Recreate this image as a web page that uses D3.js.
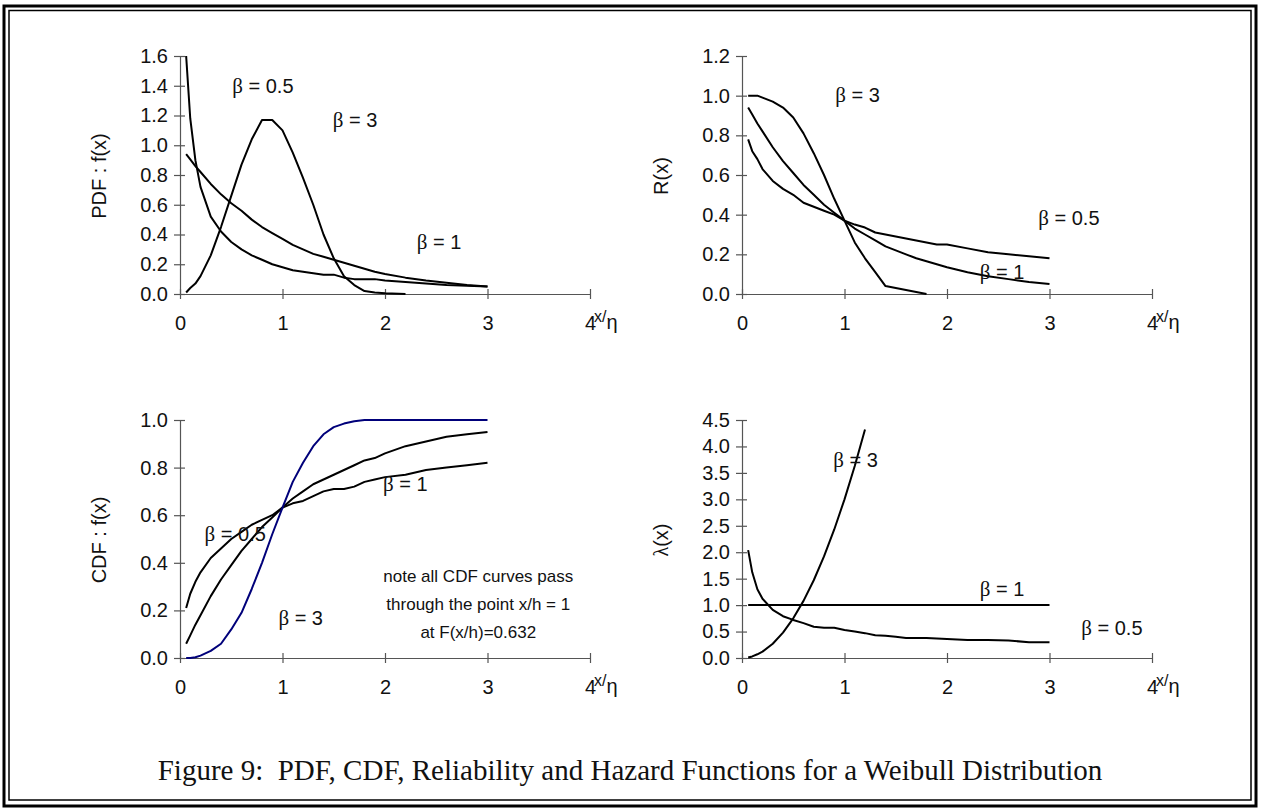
<!DOCTYPE html>
<html>
<head>
<meta charset="utf-8">
<script src="https://cdn.jsdelivr.net/npm/d3@7"></script>
<style>
  body { margin: 0; background: #fff; }
  svg text { font-family: "Liberation Sans", Arial, sans-serif; fill: #111; }
</style>
</head>
<body>
<svg id="fig" width="1261" height="809"></svg>
<script>
// Weibull figure: PDF, R(x), CDF and hazard for beta = 0.5, 1, 3 (eta = 1)

const xGrid = [0.06, 0.1, 0.15, 0.2, 0.3, 0.4, 0.5, 0.6, 0.7, 0.8, 0.9, 1.0,
  1.1, 1.2, 1.3, 1.4, 1.5, 1.6, 1.7, 1.8, 1.9, 2.0, 2.2, 2.4, 2.6, 2.8, 3.0]

// PDF f(x)
const pdfB05 = [1.6, 1.18, 0.90, 0.72, 0.52, 0.42, 0.35, 0.30, 0.26, 0.23, 0.20, 0.18,
  0.16, 0.15, 0.14, 0.13, 0.13, 0.11, 0.10, 0.10, 0.10, 0.09, 0.08, 0.07, 0.06, 0.055, 0.05]
const pdfB1 = [0.94, 0.905, 0.86, 0.82, 0.74, 0.67, 0.61, 0.56, 0.50, 0.45, 0.41, 0.37,
  0.33, 0.30, 0.27, 0.25, 0.23, 0.21, 0.19, 0.17, 0.15, 0.135, 0.11, 0.09, 0.075, 0.06, 0.05]
const pdfB3 = [0.01, 0.04, 0.07, 0.12, 0.26, 0.45, 0.66, 0.87, 1.04, 1.17, 1.17, 1.10,
  0.95, 0.78, 0.60, 0.40, 0.24, 0.12, 0.06, 0.02, 0.01, 0.005, 0.0]

// reliability R(x)
const relB05 = [0.78, 0.72, 0.68, 0.63, 0.57, 0.53, 0.50, 0.46, 0.44, 0.42, 0.40, 0.37,
  0.35, 0.335, 0.31, 0.30, 0.29, 0.28, 0.27, 0.26, 0.25, 0.25, 0.23, 0.21, 0.20, 0.19, 0.18]
const relB1 = [0.94, 0.905, 0.86, 0.82, 0.74, 0.67, 0.61, 0.55, 0.50, 0.45, 0.41, 0.37,
  0.33, 0.30, 0.27, 0.24, 0.22, 0.20, 0.18, 0.165, 0.15, 0.135, 0.11, 0.09, 0.075, 0.06, 0.05]
const relB3 = [1.0, 1.0, 1.0, 0.99, 0.97, 0.94, 0.89, 0.81, 0.71, 0.60, 0.48, 0.37,
  0.26, 0.18, 0.11, 0.04, 0.03, 0.02, 0.01, 0.0]

// CDF F(x)
const cdfB05 = [0.21, 0.27, 0.32, 0.36, 0.42, 0.46, 0.50, 0.53, 0.56, 0.58, 0.60, 0.632,
  0.65, 0.66, 0.68, 0.70, 0.71, 0.71, 0.72, 0.74, 0.75, 0.76, 0.77, 0.79, 0.80, 0.81, 0.82]
const cdfB1 = [0.06, 0.095, 0.14, 0.18, 0.26, 0.33, 0.39, 0.45, 0.50, 0.55, 0.59, 0.632,
  0.67, 0.70, 0.73, 0.75, 0.77, 0.79, 0.81, 0.83, 0.84, 0.86, 0.89, 0.91, 0.93, 0.94, 0.95]
const cdfB3 = [0.0, 0.0, 0.003, 0.01, 0.03, 0.06, 0.12, 0.19, 0.29, 0.40, 0.52, 0.632,
  0.74, 0.82, 0.89, 0.94, 0.97, 0.985, 0.995, 1.0, 1.0, 1.0, 1.0, 1.0, 1.0, 1.0, 1.0]

// hazard lambda(x)
const hazB05 = [2.04, 1.62, 1.30, 1.12, 0.91, 0.79, 0.72, 0.66, 0.59, 0.57, 0.57, 0.53,
  0.50, 0.47, 0.43, 0.42, 0.40, 0.38, 0.38, 0.38, 0.37, 0.36, 0.34, 0.34, 0.33, 0.30, 0.30]
const hazB1 = [1, 1, 1, 1, 1, 1, 1, 1, 1, 1, 1, 1, 1, 1, 1, 1, 1, 1, 1, 1, 1, 1, 1, 1, 1, 1, 1]
const hazB3 = [0.01, 0.03, 0.07, 0.12, 0.27, 0.48, 0.75, 1.08, 1.47, 1.92, 2.43, 3.0,
  3.63, 4.32]

const xTicks = [0, 1, 2, 3, 4]

const svg = d3.select("#fig")
const FS = 20   // tick / label font size (chart text)
const NOTE_FS = 17

// double frame around the whole figure
svg.append("rect").attr("x", 4).attr("y", 6).attr("width", 1252).attr("height", 800)
  .attr("fill", "none").attr("stroke", "#000").attr("stroke-width", 3)
svg.append("rect").attr("x", 9).attr("y", 10.5).attr("width", 1242).attr("height", 789.5)
  .attr("fill", "none").attr("stroke", "#000").attr("stroke-width", 1.5)

// one panel = axes + curves + annotations
function drawPanel(p) {
  const x = d3.scaleLinear().domain([0, 4]).range([p.left, p.left + 410])
  const y = d3.scaleLinear().domain([0, p.yMax]).range([p.bottom, p.top])
  const g = svg.append("g")

  // x axis with crossing ticks
  const xa = g.append("g").attr("transform", `translate(0,${p.bottom})`)
    .call(d3.axisBottom(x).tickValues(xTicks).tickSizeInner(5).tickSizeOuter(0).tickPadding(17).tickFormat(d3.format("d")))
  xa.selectAll(".tick line").attr("y1", -5)
  xa.selectAll("text").style("font-size", FS + "px").attr("fill", "#111")

  // y axis
  const yTicks = d3.range(0, p.yMax + 1e-9, p.yStep)
  const ya = g.append("g").attr("transform", `translate(${p.left},0)`)
    .call(d3.axisLeft(y).tickValues(yTicks).tickSizeInner(6).tickSizeOuter(0).tickPadding(6).tickFormat(d3.format(".1f")))
  ya.selectAll(".tick line").attr("x1", 5)
  ya.selectAll("text").style("font-size", FS + "px").attr("fill", "#111")

  g.selectAll(".domain, .tick line").attr("stroke", "#555").attr("stroke-width", 1.2)

  // x/eta label next to the 4
  const xl = g.append("text").attr("x", x(4) + 4).attr("y", p.bottom + 35)
  xl.append("tspan").text("x/").style("font-size", "16px").attr("dy", -7)
  xl.append("tspan").text("η").style("font-size", FS + "px").attr("dy", 7)

  // rotated y label
  const yl = g.append("text")
    .attr("transform", `translate(${p.left - 74},${(p.top + p.bottom) / 2 + 1}) rotate(-90)`)
    .attr("text-anchor", "middle").style("font-size", FS + "px")
  p.yLabel.forEach(s => {
    yl.append("tspan").text(s.t).style("font-family", s.serif ? "'Liberation Serif', serif" : null)
  })

  // curves
  const line = d3.line().x(d => x(d[0])).y(d => y(d[1]))
  p.series.forEach(s => {
    const pts = s.values.map((v, i) => [xGrid[i], v])
    g.append("path").attr("d", line(pts))
      .attr("fill", "none").attr("stroke", s.color || "#000")
      .attr("stroke-width", 2).attr("stroke-linejoin", "round")
  })

  // beta labels
  p.labels.forEach(l => {
    const t = g.append("text").attr("x", x(l.x)).attr("y", y(l.y)).style("font-size", FS + "px")
    t.append("tspan").text("β").style("font-family", "'Liberation Serif', serif").style("font-size", (FS + 1) + "px")
    t.append("tspan").text(" = " + l.b)
  })

  if (p.note) {
    p.note.forEach((line, i) => {
      g.append("text").attr("x", x(2.91)).attr("y", y(0.32) + i * 28)
        .attr("text-anchor", "middle").style("font-size", NOTE_FS + "px").text(line)
    })
  }
}

drawPanel({
  left: 180, bottom: 294, top: 56, yMax: 1.6, yStep: 0.2,
  yLabel: [{ t: "PDF : f(x)" }],
  series: [{ values: pdfB05 }, { values: pdfB1 }, { values: pdfB3 }],
  labels: [{ b: "0.5", x: 0.51, y: 1.35 }, { b: "3", x: 1.49, y: 1.12 }, { b: "1", x: 2.31, y: 0.30 }]
})

drawPanel({
  left: 742, bottom: 294, top: 56, yMax: 1.2, yStep: 0.2,
  yLabel: [{ t: "R(x)" }],
  series: [{ values: relB05 }, { values: relB1 }, { values: relB3 }],
  labels: [{ b: "3", x: 0.91, y: 0.97 }, { b: "0.5", x: 2.89, y: 0.35 }, { b: "1", x: 2.32, y: 0.076 }]
})

drawPanel({
  left: 180, bottom: 658, top: 420, yMax: 1.0, yStep: 0.2,
  yLabel: [{ t: "CDF : f(x)" }],
  series: [{ values: cdfB05 }, { values: cdfB1 }, { values: cdfB3, color: "#00007a" }],
  labels: [{ b: "0.5", x: 0.24, y: 0.49 }, { b: "3", x: 0.96, y: 0.14 }, { b: "1", x: 1.98, y: 0.70 }],
  note: ["note all CDF curves pass", "through the point x/h = 1", "at F(x/h)=0.632"]
})

drawPanel({
  left: 742, bottom: 658, top: 420, yMax: 4.5, yStep: 0.5,
  yLabel: [{ t: "λ", serif: true }, { t: "(x)" }],
  series: [{ values: hazB05 }, { values: hazB1 }, { values: hazB3 }],
  labels: [{ b: "3", x: 0.89, y: 3.61 }, { b: "1", x: 2.32, y: 1.17 }, { b: "0.5", x: 3.31, y: 0.43 }]
})

// caption
svg.append("text").attr("x", 630).attr("y", 780).attr("text-anchor", "middle")
  .attr("xml:space", "preserve")
  .style("font-family", "'Liberation Serif', 'Times New Roman', serif").style("font-size", "29px")
  .text("Figure 9:  PDF, CDF, Reliability and Hazard Functions for a Weibull Distribution")
</script>
</body>
</html>
